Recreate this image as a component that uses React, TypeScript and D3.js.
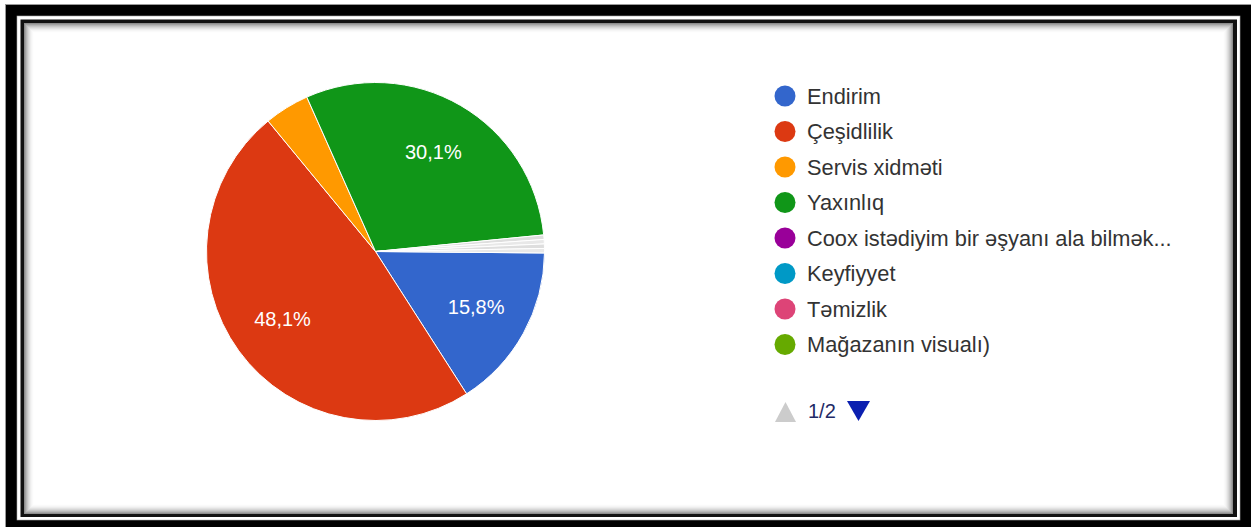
import React from "react";
import * as d3 from "d3";

const categories = [
  "Endirim",
  "Çeşidlilik",
  "Servis xidməti",
  "Yaxınlıq",
  "Coox istədiyim bir əşyanı ala bilmək...",
  "Keyfiyyet",
  "Təmizlik",
  "Mağazanın visualı)",
];
const values = [15.8, 48.1, 4.3, 30.1, 0.425, 0.425, 0.425, 0.425];
const legendColors = ["#3366cc", "#dc3912", "#ff9900", "#109618", "#990099", "#0099c6", "#dd4477", "#66aa00"];
const sliceColors = ["#3366cc", "#dc3912", "#ff9900", "#109618", "#dedede", "#e8e8e8", "#dedede", "#e8e8e8"];
const pageLabel = "1/2";

const W = 1251;
const H = 527;
const FONT = "Arial, 'Liberation Sans', sans-serif";

export default function App() {
  const cx = 375.5;
  const cy = 251.5;
  const R = 169;
  const start = (90.5 * Math.PI) / 180;
  const total = d3.sum(values);
  const pie = d3
    .pie<number>()
    .sort(null)
    .value((d) => d)
    .startAngle(start)
    .endAngle(start + 2 * Math.PI);
  const arcs = pie(values);
  const arcGen = d3.arc<d3.PieArcDatum<number>>().innerRadius(0).outerRadius(R);
  const labelArc = d3.arc<d3.PieArcDatum<number>>().innerRadius(115).outerRadius(115);
  const fmt = (v: number) => d3.format(".1f")((v / total) * 100).replace(".", ",") + "%";

  const legendY = d3.scaleLinear().domain([0, 1]).range([96, 131.5]);

  const shadow = d3.range(0, 10).map((k) => ({ k, o: 0.45 * Math.pow(1 - k / 10, 2) }));
  const ix0 = 24, iy0 = 23, ix1 = 1233, iy1 = 514;

  return (
    <svg width={W} height={H} style={{ position: "absolute", left: 0, top: 0 }} xmlns="http://www.w3.org/2000/svg">
      <rect x={0} y={0} width={W} height={H} fill="#ffffff" />
      {/* frame */}
      <rect x={5.5} y={4.5} width={W} height={H} fill="#000" stroke="#999" strokeWidth={1} />
      <rect x={17} y={16} width={1240 - 17} height={520 - 16} fill="#fff" stroke="#aaa" strokeWidth={0.6} />
      <rect x={20.5} y={19.5} width={1237 - 20.5} height={517 - 19.5} fill="#111" />
      <rect x={ix0} y={iy0} width={ix1 - ix0} height={iy1 - iy0} fill="#fff" />
      {shadow.map(({ k, o }) => (
        <rect
          key={k}
          x={ix0 + k + 0.5}
          y={iy0 + k + 0.5}
          width={ix1 - ix0 - 2 * k - 1}
          height={iy1 - iy0 - 2 * k - 1}
          fill="none"
          stroke="#000"
          strokeOpacity={o}
          strokeWidth={1}
        />
      ))}

      {/* pie */}
      <g transform={`translate(${cx},${cy})`}>
        {arcs.map((a, i) => (
          <path key={i} d={arcGen(a) || ""} fill={sliceColors[i]} stroke="#fff" strokeWidth={1} />
        ))}
        {arcs.map((a, i) => {
          if (a.value / total < 0.1) return null;
          const [x, y] = labelArc.centroid(a);
          return (
            <text
              key={"l" + i}
              x={x}
              y={y}
              fill="#fff"
              fontFamily={FONT}
              fontSize={20}
              textAnchor="middle"
              dominantBaseline="central"
            >
              {fmt(a.value)}
            </text>
          );
        })}
      </g>

      {/* legend */}
      {categories.map((c, i) => (
        <g key={c} transform={`translate(0,${legendY(i)})`}>
          <circle cx={785} cy={0} r={10.5} fill={legendColors[i]} />
          <text x={807} y={0} fill="#333" fontFamily={FONT} fontSize={21.8} dominantBaseline="central">
            {c}
          </text>
        </g>
      ))}

      {/* pagination */}
      <g transform={`translate(0,${legendY(0) + 315})`}>
        <path d="M775,11 L785.5,-9 L796,11 Z" fill="#cccccc" />
        <text x={808} y={0} fill="#1f2a66" fontFamily={FONT} fontSize={20} dominantBaseline="central">
          {pageLabel}
        </text>
        <path d="M847,-10 L870,-10 L858.5,10 Z" fill="#0b1fb0" />
      </g>
    </svg>
  );
}
